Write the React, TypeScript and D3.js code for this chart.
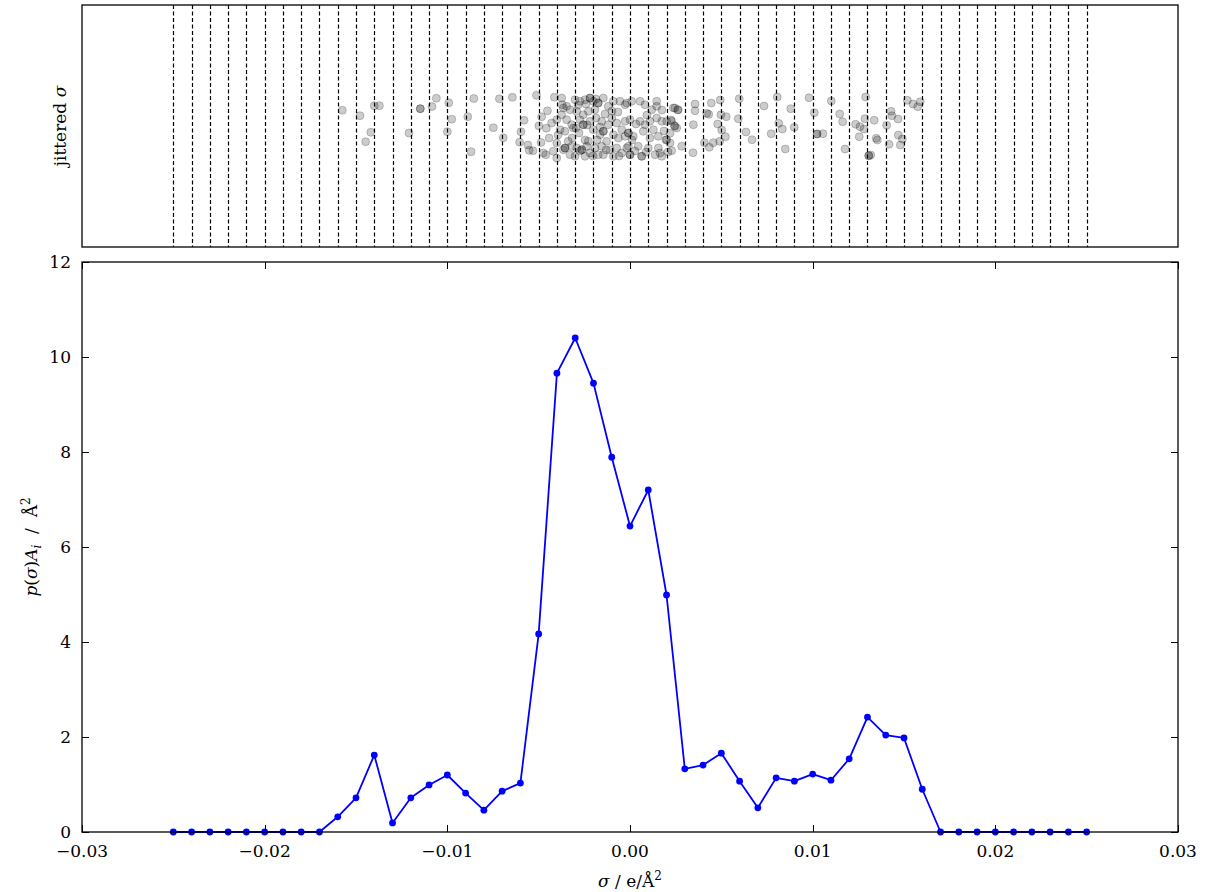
import React, { useEffect, useRef } from 'react';
import * as d3 from 'd3';

// sigma bin centres (e/Å^2) and p(sigma)*A_i values
const sigmaBins = [
  -0.025, -0.024, -0.023, -0.022, -0.021, -0.02, -0.019, -0.018, -0.017, -0.016, -0.015, -0.014, -0.013,
  -0.012, -0.011, -0.01, -0.009, -0.008, -0.007, -0.006, -0.005, -0.004, -0.003, -0.002, -0.001, 0.0,
  0.001, 0.002, 0.003, 0.004, 0.005, 0.006, 0.007, 0.008, 0.009, 0.01, 0.011, 0.012, 0.013, 0.014,
  0.015, 0.016, 0.017, 0.018, 0.019, 0.02, 0.021, 0.022, 0.023, 0.024, 0.025
];
const pSigmaArea = [
  0, 0, 0, 0, 0, 0, 0, 0, 0, 0.32, 0.72, 1.62, 0.19, 0.72, 0.99, 1.2, 0.82, 0.46, 0.86, 1.03, 4.17,
  9.66, 10.4, 9.45, 7.89, 6.44, 7.2, 4.99, 1.33, 1.41, 1.66, 1.07, 0.51, 1.14, 1.07, 1.22, 1.09, 1.54,
  2.42, 2.04, 1.98, 0.9, 0, 0, 0, 0, 0, 0, 0, 0, 0
];

const xTicks = [-0.03, -0.02, -0.01, 0, 0.01, 0.02, 0.03];
const yTicks = [0, 2, 4, 6, 8, 10, 12];

// jittered sigma samples (sigma, jitter)
const jitterSigma = [
  -0.01575, -0.01478, -0.01419, -0.01447, -0.014, -0.01372, -0.0121, -0.01148, -0.01148, -0.01084,
  -0.0106, -0.00992, -0.00976, -0.01, -0.00888, -0.00855, -0.0087, -0.00748, -0.00715, -0.00644,
  -0.00694, -0.0058, -0.00597, -0.00604, -0.00559, -0.00552, -0.00531, -0.00512, -0.00484, -0.00499,
  -0.00458, -0.00452, -0.00487, -0.00475, -0.00429, -0.00401, -0.00443, -0.00461, -0.0042, -0.00401,
  -0.00414, -0.00374, -0.00371, -0.00347, -0.00328, -0.00374, -0.00383, -0.00356, -0.00401, -0.00365,
  -0.00356, -0.00356, -0.00338, -0.00319, -0.00328,
  -0.00301, -0.00274, -0.00246, -0.00219, -0.00219, -0.00201, -0.00174, -0.00174, -0.00146, -0.00119,
  -0.00091, -0.00055, -0.00027, -0.00292, -0.00256, -0.00274, -0.00228, -0.00192, -0.0031, -0.00256,
  -0.00256, -0.00219, -0.00155, -0.00146, -0.00146, -0.00119, -0.001, -0.00073, -0.00045, -0.00027,
  -0.00201, -0.00164, -0.00091, -0.00064, -0.00027, -0.00319, -0.00292, -0.00264, -0.00264, -0.00237,
  -0.00219, -0.00192, -0.00155, -0.00146, -0.00109, -0.00073, -0.00045, -0.00018, -0.00301, -0.00246,
  -0.00174, -0.00091, -0.00228, -0.00128,
  -0.00018, 0.00009, 0.00055, 0.00082, 0.00119, 0.00146, 0.00146, 0.00246, 0.00264, 0.0, 0.00055,
  0.00082, 0.00109, 0.00146, 0.00174, 0.00201, 0.00228, 0.00246, 0.00256, -0.00009, -0.00009, 0.00018,
  0.00073, 0.00128, 0.00155, 0.00201, 0.00219, -0.00009, 0.00045, 0.001, 0.00155, 0.00137, 0.00164,
  0.00174, 0.0, 0.0, 0.00064, 0.00064, 0.00283,
  0.00237, 0.00261, 0.00224, 0.00243, 0.00219, 0.00197, 0.00228, 0.00356, 0.00356, 0.00347, 0.00345,
  0.00445, 0.0042, 0.00431, 0.00494, 0.00498, 0.00527, 0.0048, 0.00502, 0.00522, 0.00491, 0.00456,
  0.00407, 0.00434, 0.00598, 0.00593, 0.00635, 0.00668, 0.00734, 0.00806, 0.0088, 0.00814, 0.00834,
  0.00773, 0.00899, 0.0085, 0.0098, 0.01009, 0.01024, 0.01024, 0.01056, 0.01102, 0.01148, 0.01164,
  0.01177, 0.0129, 0.01286, 0.01235, 0.01259, 0.01281, 0.01255, 0.01337, 0.01348, 0.01354, 0.01307,
  0.01307, 0.01318, 0.01429, 0.01434, 0.01467, 0.01405, 0.01469, 0.01491, 0.01418, 0.0148, 0.01518,
  0.01549, 0.01575, 0.01589,
  -0.00365, -0.00347, -0.00394, -0.00317, -0.00285, -0.00241, -0.00186, -0.00235, -0.00186, -0.00279,
  -0.00246, -0.0018, -0.00137, -0.00099, -0.00066, -0.00274, -0.00203, -0.00131, -0.0006, 0.00011,
  0.00033, 0.00093, 0.00109, 0.00175, 0.00186, 0.00027, 0.00088, 0.00208, -0.00296, -0.00164
];
const jitterY = [
  0.157, 0.103, -0.063, -0.157, 0.203, 0.203, -0.07, 0.173, 0.173, 0.195,
  0.277, 0.232, 0.068, -0.057, 0.093, 0.275, -0.257, -0.017, 0.272, 0.287,
  -0.117, 0.057, -0.057, -0.162, -0.19, -0.243, -0.247, 0.307, 0.092, 0.002,
  -0.022, 0.152, -0.165, -0.27, 0.03, 0.063, -0.12, -0.287, -0.253, -0.32,
  0.287, 0.28, 0.213, 0.197, 0.163, 0.113, -0.037, -0.053, -0.17, -0.237,
  -0.22, -0.22, -0.153, 0.013, -0.287,
  0.263, 0.247, 0.263, 0.28, 0.28, 0.247, 0.23, 0.23, 0.28, 0.197,
  0.247, 0.247, 0.213, 0.147, 0.113, 0.063, 0.147, 0.163, -0.02, 0.013,
  0.013, 0.047, 0.047, -0.053, -0.053, 0.013, 0.08, 0.03, -0.037, 0.047,
  -0.037, -0.087, -0.087, -0.12, -0.103, -0.203, -0.22, -0.237, -0.237, -0.203,
  -0.27, -0.22, -0.203, -0.287, -0.237, -0.22, -0.27, -0.22, -0.303, -0.303,
  -0.287, -0.303, -0.153, -0.153,
  0.23, 0.247, 0.247, 0.213, 0.163, 0.247, 0.197, 0.18, 0.163, 0.063, 0.047,
  0.013, 0.047, 0.08, 0.047, 0.047, 0.047, -0.003, -0.02, -0.07, -0.07, -0.103,
  -0.053, -0.037, -0.103, -0.137, -0.17, -0.203, -0.203, -0.22, -0.22, -0.287, -0.27,
  -0.303, -0.287, -0.287, -0.303, -0.303, -0.203,
  0.18, 0.16, 0.06, 0.003, -0.073, -0.14, -0.247, 0.22, 0.153, 0.013, -0.267,
  0.23, 0.127, 0.117, 0.26, 0.113, 0.093, 0.02, -0.04, -0.107, -0.153, -0.167,
  -0.167, -0.213, 0.273, 0.073, -0.06, -0.137, 0.2, 0.29, 0.173, 0.027, -0.03,
  -0.077, -0.013, -0.23, 0.283, 0.133, -0.08, -0.08, -0.077, 0.25, 0.12, 0.043,
  -0.23, 0.29, 0.073, 0.017, -0.007, -0.03, -0.107, 0.057, -0.123, -0.14, -0.297,
  -0.297, -0.29, 0.147, 0.103, 0.07, 0.007, -0.09, -0.13, -0.183, -0.19, 0.257,
  0.22, 0.193, 0.243,
  0.18, 0.063, -0.09, -0.12, 0.21, 0.22, 0.27, 0.01, 0.08, -0.07,
  -0.14, -0.14, 0.12, 0.15, 0.14, -0.25, -0.3, -0.24, -0.3, -0.14,
  0.02, 0.11, -0.12, 0.16, -0.05, -0.25, -0.26, -0.26, -0.02, -0.01
];

const W = 1210;
const H = 892;
const left = 82;
const right = 1178;
const topPanel = { top: 5, bottom: 247 };
const mainPanel = { top: 262, bottom: 832 };
const font = '"DejaVu Serif", serif';

export default function App() {
  const ref = useRef<SVGSVGElement>(null);

  useEffect(() => {
    const svg = d3.select(ref.current);
    svg.selectAll('*').remove();

    const x = d3.scaleLinear().domain([-0.03, 0.03]).range([left, right]);
    const yTop = d3.scaleLinear().domain([-1.21, 1.21]).range([topPanel.bottom, topPanel.top]);
    const y = d3.scaleLinear().domain([0, 12]).range([mainPanel.bottom, mainPanel.top]);

    // ---- top panel: jittered sigma
    const gt = svg.append('g');
    gt.append('g')
      .selectAll('line')
      .data(sigmaBins)
      .enter()
      .append('line')
      .attr('x1', d => Math.round(x(d)) + 0.5)
      .attr('x2', d => Math.round(x(d)) + 0.5)
      .attr('y1', topPanel.top)
      .attr('y2', topPanel.bottom)
      .attr('stroke', '#000')
      .attr('stroke-width', 1.2)
      .attr('stroke-dasharray', '4,2.5');

    gt.append('g')
      .selectAll('circle')
      .data(jitterSigma)
      .enter()
      .append('circle')
      .attr('cx', d => x(d))
      .attr('cy', (d, i) => yTop(jitterY[i]))
      .attr('r', 4)
      .attr('fill', 'rgba(0,0,0,0.2)')
      .attr('stroke', 'rgba(0,0,0,0.2)')
      .attr('stroke-width', 1);

    gt.append('rect')
      .attr('x', left)
      .attr('y', topPanel.top)
      .attr('width', right - left)
      .attr('height', topPanel.bottom - topPanel.top)
      .attr('fill', 'none')
      .attr('stroke', '#000')
      .attr('stroke-width', 1.3);

    gt.append('text')
      .attr('transform', `translate(66,${(topPanel.top + topPanel.bottom) / 2}) rotate(-90)`)
      .attr('text-anchor', 'middle')
      .style('font-family', font)
      .style('font-size', '17px')
      .call(t => {
        t.append('tspan').text('jittered ');
        t.append('tspan').style('font-style', 'italic').text('σ');
      });

    // ---- main panel: p(sigma) A_i
    const gm = svg.append('g');
    const line = d3
      .line<number>()
      .x((d, i) => x(sigmaBins[i]))
      .y(d => y(d));

    gm.append('path')
      .attr('d', line(pSigmaArea))
      .attr('fill', 'none')
      .attr('stroke', '#0000ff')
      .attr('stroke-width', 1.8)
      .attr('stroke-linejoin', 'round');

    gm.append('g')
      .selectAll('circle')
      .data(pSigmaArea)
      .enter()
      .append('circle')
      .attr('cx', (d, i) => x(sigmaBins[i]))
      .attr('cy', d => y(d))
      .attr('r', 3.4)
      .attr('fill', '#0000ff');

    gm.append('rect')
      .attr('x', left)
      .attr('y', mainPanel.top)
      .attr('width', right - left)
      .attr('height', mainPanel.bottom - mainPanel.top)
      .attr('fill', 'none')
      .attr('stroke', '#000')
      .attr('stroke-width', 1.3);

    // ticks, inward on all four sides
    const tickLen = 7;
    const fmtX = d3.format('.2f');
    xTicks.forEach(t => {
      const px = Math.round(x(t)) + 0.5;
      gm.append('line').attr('x1', px).attr('x2', px)
        .attr('y1', mainPanel.bottom).attr('y2', mainPanel.bottom - tickLen)
        .attr('stroke', '#000');
      gm.append('line').attr('x1', px).attr('x2', px)
        .attr('y1', mainPanel.top).attr('y2', mainPanel.top + tickLen)
        .attr('stroke', '#000');
      gm.append('text')
        .attr('x', x(t))
        .attr('y', mainPanel.bottom + 25)
        .attr('text-anchor', 'middle')
        .style('font-family', font)
        .style('font-size', '17px')
        .text(fmtX(t));
    });
    yTicks.forEach(t => {
      const py = Math.round(y(t)) + 0.5;
      gm.append('line').attr('x1', left).attr('x2', left + tickLen)
        .attr('y1', py).attr('y2', py).attr('stroke', '#000');
      gm.append('line').attr('x1', right).attr('x2', right - tickLen)
        .attr('y1', py).attr('y2', py).attr('stroke', '#000');
      gm.append('text')
        .attr('x', left - 11)
        .attr('y', y(t) + 6)
        .attr('text-anchor', 'end')
        .style('font-family', font)
        .style('font-size', '17px')
        .text(t);
    });

    // axis labels
    gm.append('text')
      .attr('x', (left + right) / 2)
      .attr('y', 887)
      .attr('text-anchor', 'middle')
      .style('font-family', font)
      .style('font-size', '17px')
      .style('white-space', 'pre')
      .call(t => {
        t.append('tspan').style('font-style', 'italic').text('σ');
        t.append('tspan').text(' / e/Å');
        t.append('tspan').attr('dy', -7).style('font-size', '12px').text('2');
      });

    gm.append('text')
      .attr('transform', `translate(37,${(mainPanel.top + mainPanel.bottom) / 2}) rotate(-90)`)
      .attr('text-anchor', 'middle')
      .style('font-family', font)
      .style('font-size', '17px')
      .style('white-space', 'pre')
      .call(t => {
        t.append('tspan').style('font-style', 'italic').text('p');
        t.append('tspan').text('(');
        t.append('tspan').style('font-style', 'italic').text('σ');
        t.append('tspan').text(')');
        t.append('tspan').style('font-style', 'italic').text('A');
        t.append('tspan').attr('dy', 4).style('font-style', 'italic').style('font-size', '12px').text('i');
        t.append('tspan').attr('dy', -4).text('  /  Å');
        t.append('tspan').attr('dy', -7).style('font-size', '12px').text('2');
      });
  }, []);

  return (
    <svg
      ref={ref}
      width={W}
      height={H}
      style={{ position: 'absolute', left: 0, top: 0, background: '#fff' }}
    />
  );
}
